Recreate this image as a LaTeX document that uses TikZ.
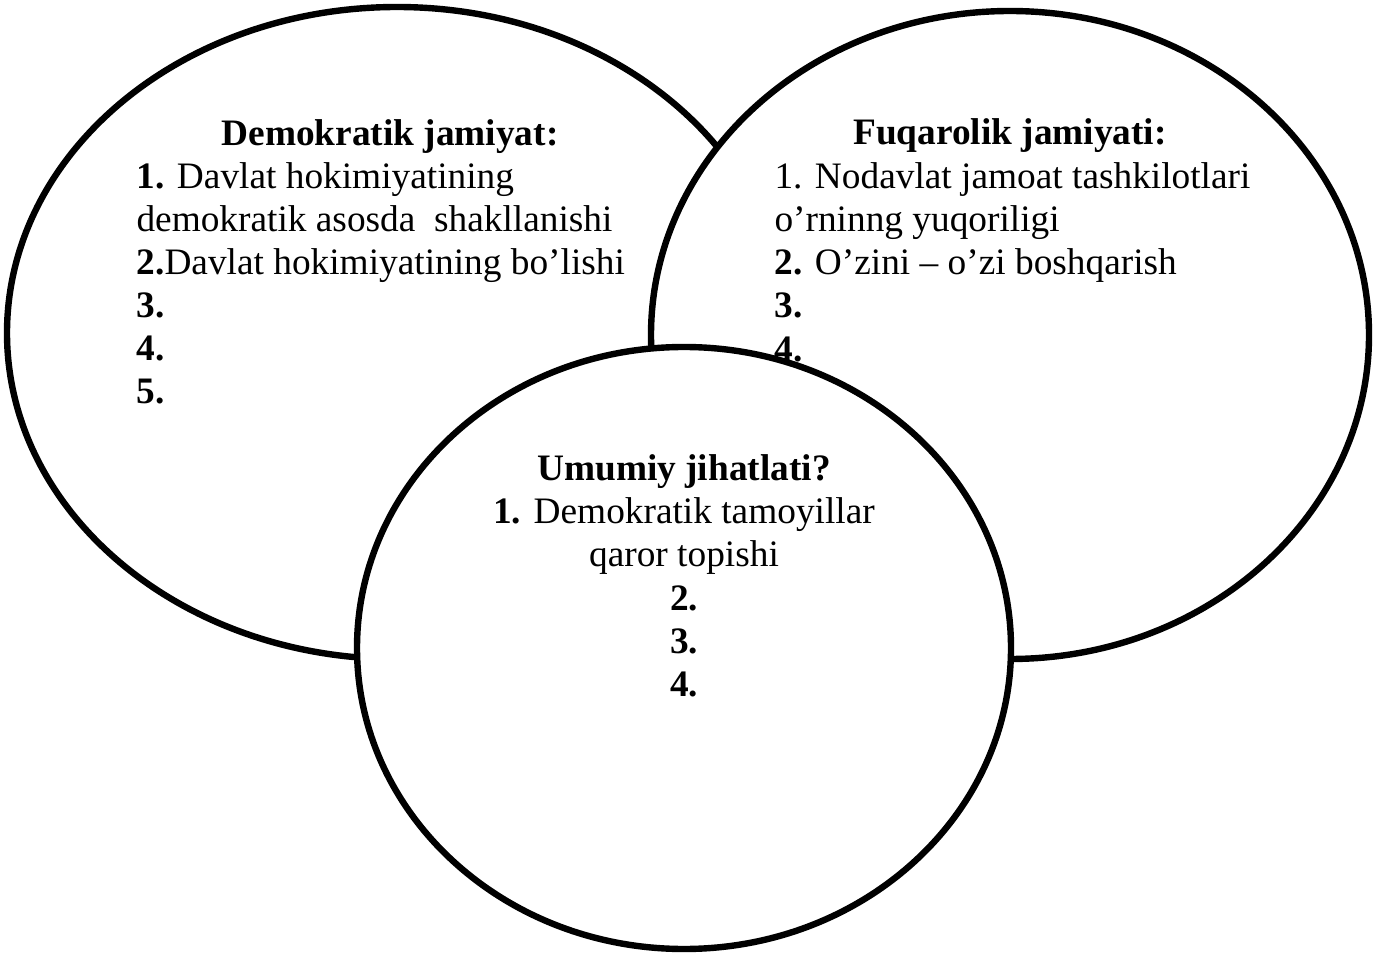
\documentclass[tikz,border=0pt]{standalone}
\usepackage{fontspec}
\setmainfont{Liberation Serif}
\usetikzlibrary{shapes.geometric, positioning}
\tikzset{
	setnode/.style={
			ellipse,
			draw=black,
			line width=2.4pt,
			fill=white,
			inner sep=0pt
		},
	headnode/.style={
			anchor=base,
			font=\fontsize{14}{16}\selectfont\bfseries,
			inner sep=0pt
		},
	linenode/.style={
			anchor=base west,
			font=\fontsize{14}{16}\selectfont,
			inner sep=0pt
		},
	midlinenode/.style={
			linenode,
			anchor=base
		}
}

\begin{document}
\begin{tikzpicture}[x=0.375pt, y=-0.375pt]
\useasboundingbox (0,0) rectangle (1373,954);

\node (dem) at (397,333) [setnode, minimum width=292.5pt, minimum height=244.5pt] {};
\node (demtitle) at (390,146) [headnode] {Demokratik jamiyat:};
\node (dem1) at (136,189) [linenode] {\textbf{1.} Davlat hokimiyatining};
\node (dem1b) at (136,232) [linenode] {demokratik asosda\ \ shakllanishi};
\node (dem2) at (136,275) [linenode] {\textbf{2.}Davlat hokimiyatining bo’lishi};
\node (dem3) at (136,318) [linenode] {\textbf{3.}};
\node (dem4) at (136,361) [linenode] {\textbf{4.}};
\node (dem5) at (136,404) [linenode] {\textbf{5.}};

\node (fuq) at (1010,335) [setnode, minimum width=269.25pt, minimum height=243pt] {};
\node (fuqtitle) at (1010,145) [headnode] {Fuqarolik jamiyati:};
\node (fuq1) at (774,189) [linenode] {1. Nodavlat jamoat tashkilotlari};
\node (fuq1b) at (774,232) [linenode] {o’rninng yuqoriligi};
\node (fuq2) at (774,275) [linenode] {\textbf{2.} O’zini – o’zi boshqarish};
\node (fuq3) at (774,318) [linenode] {\textbf{3.}};
\node (fuq4) at (774,362) [linenode] {\textbf{4.}};

\node (umu) at (684,648) [setnode, minimum width=245.25pt, minimum height=225.75pt] {};
\node (umutitle) at (684,481) [headnode] {Umumiy jihatlati?};
\node (umu1) at (684,524) [midlinenode] {\textbf{1.} Demokratik tamoyillar};
\node (umu1b) at (684,567) [midlinenode] {qaror topishi};
\node (umu2) at (684,610) [midlinenode] {\textbf{2.}};
\node (umu3) at (684,653) [midlinenode] {\textbf{3.}};
\node (umu4) at (684,696) [midlinenode] {\textbf{4.}};

\end{tikzpicture}
\end{document}
